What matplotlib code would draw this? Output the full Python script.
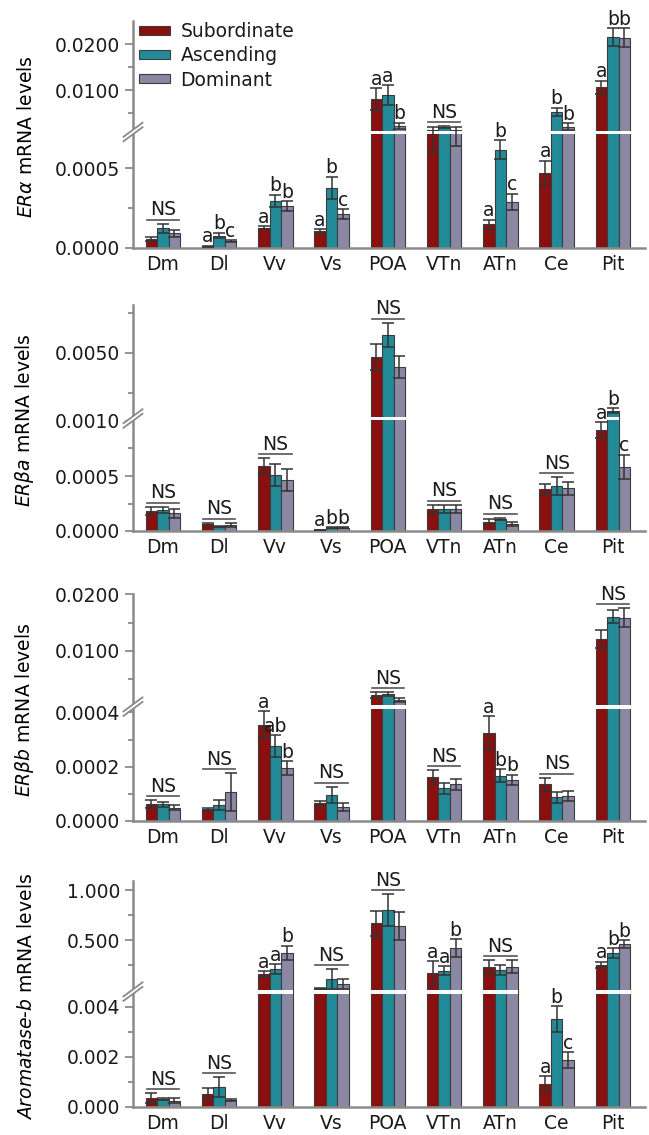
import numpy as np
import matplotlib
matplotlib.use("Agg")
import matplotlib.pyplot as plt
from matplotlib.patches import Patch, Rectangle, Polygon

FS = 13.5
plt.rcParams["font.family"] = "DejaVu Sans"
plt.rcParams["mathtext.fontset"] = "dejavusans"
plt.rcParams["font.size"] = FS
plt.rcParams["text.color"] = "#1a1a1a"
plt.rcParams["xtick.color"] = "#1a1a1a"
plt.rcParams["ytick.color"] = "#1a1a1a"

regions = ["Dm", "Dl", "Vv", "Vs", "POA", "VTn", "ATn", "Ce", "Pit"]
groups = ["Subordinate", "Ascending", "Dominant"]

# ER alpha
era_sub = [0.000055, 0.000008, 0.000126, 0.000105, 0.0080, 0.0013, 0.000147, 0.000469, 0.0106]
era_sub_err = [0.000015, 0.000004, 0.00001, 0.000012, 0.0024, 0.0007, 0.00003, 0.00008, 0.0014]
era_asc = [0.000122, 0.000076, 0.000294, 0.000378, 0.0089, 0.0019, 0.000616, 0.00528, 0.0215]
era_asc_err = [0.00003, 0.000018, 0.00004, 0.00007, 0.0022, 0.0002, 0.00006, 0.0009, 0.002]
era_dom = [0.00009, 0.000044, 0.000263, 0.000212, 0.00217, 0.0013, 0.00029, 0.0020, 0.0214]
era_dom_err = [0.00002, 0.000005, 0.00003, 0.00003, 0.0007, 0.00066, 0.00005, 0.0008, 0.002]
era_letters = ["NS", "abc", "abb", "abc", "aab", "NS", "abc", "abb", "abb"]

# ER beta a
erba_sub = [0.000182, 0.000061, 0.00059, 0.00001, 0.00477, 0.000197, 0.000085, 0.000379, 0.000918]
erba_sub_err = [0.00004, 0.00001, 0.00007, 0.000003, 0.00066, 0.00004, 0.00002, 0.00005, 0.00007]
erba_asc = [0.00019, 0.000039, 0.00051, 0.00003, 0.0059, 0.0002, 0.000109, 0.000409, 0.0021]
erba_asc_err = [0.00003, 0.000005, 0.0001, 0.000005, 0.0006, 0.00004, 0.00001, 0.00008, 0.00012]
erba_dom = [0.000161, 0.000055, 0.000464, 0.00003, 0.00427, 0.0002, 0.000064, 0.000388, 0.000585]
erba_dom_err = [0.00004, 0.00002, 0.0001, 0.000005, 0.00055, 0.00004, 0.00002, 0.00006, 0.00011]
erba_letters = ["NS", "NS", "NS", "abb", "NS", "NS", "NS", "NS", "abc"]

# ER beta b
erbb_sub = [0.0000614, 0.000043, 0.000354, 0.000065, 0.00215, 0.000163, 0.000325, 0.000135, 0.01207]
erbb_sub_err = [0.000015, 0.000005, 0.00005, 0.00001, 0.0005, 0.000025, 0.00006, 0.000025, 0.0016]
erbb_asc = [0.000061, 0.000059, 0.000276, 0.000096, 0.00232, 0.00012, 0.000167, 0.000087, 0.01603]
erbb_asc_err = [0.00001, 0.00002, 0.00004, 0.00003, 0.0003, 0.00002, 0.000024, 0.00002, 0.0011]
erbb_dom = [0.000049, 0.000106, 0.000196, 0.000053, 0.00126, 0.000136, 0.000151, 0.000092, 0.01585]
erbb_dom_err = [0.00001, 0.00007, 0.000025, 0.000015, 0.0003, 0.00002, 0.00002, 0.00002, 0.0017]
erbb_letters = ["NS", "NS", ["a", "ab", "b"], "NS", "NS", "NS", "abb", "NS", "NS"]

# Aromatase-b
arom_sub = [0.00034, 0.00051, 0.16, 0.015, 0.667, 0.173, 0.233, 0.00091, 0.25]
arom_sub_err = [0.0002, 0.00023, 0.03, 0.005, 0.126, 0.117, 0.067, 0.00032, 0.033]
arom_asc = [0.0003, 0.00078, 0.21, 0.107, 0.8, 0.193, 0.2, 0.00351, 0.367]
arom_asc_err = [0.00005, 0.0004, 0.05, 0.1, 0.157, 0.047, 0.05, 0.00052, 0.05]
arom_dom = [0.00024, 0.00027, 0.373, 0.06, 0.64, 0.417, 0.233, 0.00187, 0.46]
arom_dom_err = [0.0001, 0.00003, 0.07, 0.047, 0.14, 0.09, 0.067, 0.00032, 0.04]
arom_letters = ["NS", "NS", "aab", "NS", "NS", "aab", "NS", "abc", "abb"]

COLORS = ["#8a1010", "#238b98", "#8b88a4"]
EDGE = "#3c3c3c"
SPINE = "#8a8a8a"

# broken-axis layout: px/unit below the break, break height (px),
# upper anchor value/height and px/unit above the break, top value
PANELS = [
    dict(vals=(era_sub, era_asc, era_dom), errs=(era_sub_err, era_asc_err, era_dom_err),
         letters=era_letters, ylabel=r"$ER\alpha$ mRNA levels", base=247.7,
         k1=158700, hb=114.2, v2=0.01, h2=157.7, k2=4600, top=0.025,
         major=[0, 0.0005, 0.01, 0.02], minor=[0.00025, 0.005, 0.015], fmt="%.4f"),
    dict(vals=(erba_sub, erba_asc, erba_dom), errs=(erba_sub_err, erba_asc_err, erba_dom_err),
         letters=erba_letters, ylabel=r"$ER\beta a$ mRNA levels", base=531.0,
         k1=110000, hb=111.0, v2=0.005, h2=178.3, k2=20000, top=0.0074,
         major=[0, 0.0005, 0.001, 0.005], minor=[0.00025, 0.00075, 0.003, 0.007], fmt="%.4f"),
    dict(vals=(erbb_sub, erbb_asc, erbb_dom), errs=(erbb_sub_err, erbb_asc_err, erbb_dom_err),
         letters=erbb_letters, ylabel=r"$ER\beta b$ mRNA levels", base=821.0,
         k1=271500, hb=112.5, v2=0.01, h2=170.3, k2=5640, top=0.02,
         major=[0, 0.0002, 0.0004, 0.01, 0.02], minor=[0.0001, 0.0003, 0.005, 0.015], fmt="%.4f"),
    dict(vals=(arom_sub, arom_asc, arom_dom), errs=(arom_sub_err, arom_asc_err, arom_dom_err),
         letters=arom_letters, ylabel=r"$Aromatase$-$b$ mRNA levels", base=1106.7,
         k1=25000, hb=113.0, v2=0.5, h2=166.7, k2=100, top=1.09,
         major=[0, 0.002, 0.004, 0.5, 1.0], minor=[0.001, 0.003, 0.25, 0.75], fmt="%.3f"),
]

W, H = 649, 1135
AX_LEFT, AX_W = 133, 512
BAR_W = 0.205


def make_scale(k1, hb, v2, h2, k2):
    L = hb / k1
    U = max(L * 1.001, v2 - (h2 - hb - 3) / k2)
    hU = h2 + (U - v2) * k2

    def fwd(v):
        v = np.asarray(v, float)
        mid = hb + (v - L) / (U - L) * (hU - hb)
        return np.where(v <= L, v * k1, np.where(v >= U, h2 + (v - v2) * k2, mid))

    def inv(h):
        h = np.asarray(h, float)
        mid = L + (h - hb) / (hU - hb) * (U - L)
        return np.where(h <= hb, h / k1, np.where(h >= hU, v2 + (h - h2) / k2, mid))

    return fwd, inv, L, U, hU


fig = plt.figure(figsize=(W / 100, H / 100), dpi=100)
x = np.arange(len(regions))

for i, p in enumerate(PANELS):
    fwd, inv, L, U, hU = make_scale(p["k1"], p["hb"], p["v2"], p["h2"], p["k2"])
    hT = float(fwd(p["top"]))
    ax = fig.add_axes([AX_LEFT / W, (H - p["base"]) / H, AX_W / W, hT / H])
    ax.set_yscale("function", functions=(fwd, inv))
    ax.set_ylim(0, p["top"])
    ax.set_xlim(-0.53, 8.57)

    for j in range(3):
        xs = x + (j - 1) * BAR_W
        vals = np.array(p["vals"][j])
        errs = np.array(p["errs"][j])
        ax.bar(xs, vals, width=BAR_W, color=COLORS[j], edgecolor=EDGE, linewidth=0.8,
               zorder=2, label=groups[j])
        ax.errorbar(xs, vals, yerr=errs, fmt="none", ecolor="#333333", elinewidth=1.1,
                    capsize=4, capthick=1.1, zorder=4)
        # white break band across bars that pass the break
        for xv, v in zip(xs, vals):
            if v > U:
                ax.add_patch(Rectangle((xv - BAR_W / 2 - 0.01, L), BAR_W + 0.02, U - L,
                                       facecolor="white", edgecolor="none", zorder=3))

    # significance letters
    for k, lab in enumerate(p["letters"]):
        tops = [p["vals"][j][k] + p["errs"][j][k] for j in range(3)]
        if lab == "NS":
            yl = float(inv(fwd(max(tops)) + 4))
            ax.plot([k - 0.29, k + 0.29], [yl, yl], color="#555555", lw=1.2, zorder=4)
            ax.annotate("NS", (k, yl), xytext=(0, 0.3), textcoords="offset points",
                        ha="center", va="bottom", fontsize=FS)
        else:
            for j in range(3):
                ax.annotate(lab[j], (k + (j - 1) * BAR_W, tops[j]), xytext=(0, -0.5),
                            textcoords="offset points", ha="center", va="bottom",
                            fontsize=FS)

    for s in ("top", "right"):
        ax.spines[s].set_visible(False)
    for s in ("left", "bottom"):
        ax.spines[s].set_color(SPINE)
        ax.spines[s].set_linewidth(1.8)

    ax.set_yticks(p["major"])
    ax.set_yticklabels([p["fmt"] % t for t in p["major"]])
    ax.set_yticks(p["minor"], minor=True)
    ax.tick_params(axis="y", which="major", length=6, width=1.3, color=SPINE, pad=3,
                   labelsize=FS, labelcolor="#1a1a1a")
    ax.tick_params(axis="y", which="minor", length=3.5, width=1.3, color=SPINE)
    ax.set_xticks(x)
    ax.set_xticklabels(regions)
    ax.tick_params(axis="x", length=0, pad=5, labelsize=FS)
    ax.set_ylabel(p["ylabel"], fontsize=FS)
    ax.yaxis.set_label_coords((36 - AX_LEFT) / AX_W, 0.49)

    # break marks on the y spine
    ym = (p["hb"] + hU) / 2
    dx, dy, sep = 9.5, 7.0, 4.5
    fx = lambda px: px / AX_W
    fy = lambda py: py / hT
    gap = Polygon([(fx(-dx), fy(ym - dy - sep / 2)), (fx(dx), fy(ym + dy - sep / 2)),
                   (fx(dx), fy(ym + dy + sep / 2)), (fx(-dx), fy(ym - dy + sep / 2))],
                  closed=True, transform=ax.transAxes, facecolor="white",
                  edgecolor="none", clip_on=False, zorder=5)
    ax.add_patch(gap)
    for s in (-sep / 2, sep / 2):
        ax.plot([fx(-dx), fx(dx)], [fy(ym - dy + s), fy(ym + dy + s)], color=SPINE,
                lw=1.3, transform=ax.transAxes, clip_on=False, zorder=6)

    if i == 0:
        handles = [Patch(facecolor=COLORS[j], edgecolor=EDGE, linewidth=0.8, label=groups[j])
                   for j in range(3)]
        ax.legend(handles=handles, loc="upper left", bbox_to_anchor=(0.012, 0.995),
                  frameon=False, handlelength=1.65, handleheight=0.35, handletextpad=0.55,
                  labelspacing=0.28, borderpad=0, borderaxespad=0, fontsize=FS)

fig.savefig("out.png", dpi=100)
